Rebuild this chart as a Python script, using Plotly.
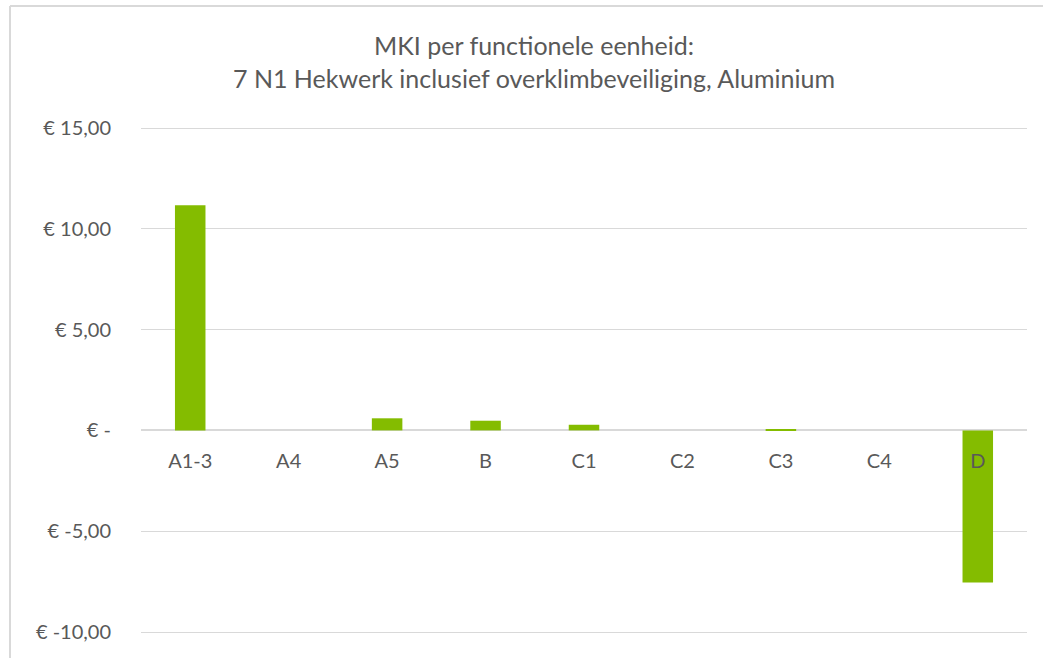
import plotly.graph_objects as go

categories = ["A1-3", "A4", "A5", "B", "C1", "C2", "C3", "C4", "D"]
values = [11.17, 0.0, 0.60, 0.48, 0.28, 0.0, 0.07, 0.0, -7.55]
tick_vals = [15, 10, 5, 0, -5, -10]
tick_text = ["€ 15,00", "€ 10,00", "€ 5,00", "€ -", "€ -5,00", "€ -10,00"]
title_lines = ["MKI per functionele eenheid:", "7 N1 Hekwerk inclusief overklimbeveiliging, Aluminium"]

W, H = 1043, 658
px_per_unit = (632 - 128) / 25
ext_px = 4
ext = ext_px / px_per_unit
y_lo, y_hi = -10 - ext, 15 + ext
ml, mr = 141, 16
mt, mb = 128 - ext_px, (658 - 632) - ext_px
pw = W - ml - mr
ph = H - mt - mb

fig = go.Figure(go.Bar(
    x=categories, y=values,
    marker=dict(color="#84BC00", line=dict(width=0)),
    width=0.31,
))

grey = "#595959"
fig.update_layout(
    width=W, height=H,
    margin=dict(l=ml, r=mr, t=mt, b=mb),
    paper_bgcolor="white", plot_bgcolor="white",
    font=dict(family="Lato, Carlito, sans-serif", color=grey),
    showlegend=False,
    title=dict(
        text="<br>".join(title_lines),
        x=534 / W, xanchor="center",
        y=1 - 55 / H, yanchor="middle",
        font=dict(size=25, color=grey, family="Lato, sans-serif"),
    ),
    yaxis=dict(
        range=[y_lo, y_hi],
        tickvals=tick_vals, ticktext=tick_text,
        showgrid=True, gridcolor="#D9D9D9", gridwidth=1,
        zeroline=True, zerolinecolor="#D9D9D9", zerolinewidth=1.5,
        ticks="outside", ticklen=25, tickcolor="rgba(0,0,0,0)",
        tickfont=dict(size=20, color=grey),
        showline=False,
    ),
    xaxis=dict(
        type="category",
        anchor="free", position=(0 - y_lo) / (y_hi - y_lo),
        showgrid=False, showline=False, zeroline=False,
        ticks="outside", ticklen=13, tickcolor="rgba(0,0,0,0)",
        tickfont=dict(size=20, color=grey),
        range=[-0.5, 8.5],
    ),
)

# chart-area border (top and left edges visible)
x_left = (10 - ml) / pw
y_top = 1 + (mt - 6) / ph
fig.add_shape(type="line", xref="paper", yref="paper",
              x0=x_left, x1=x_left, y0=y_top, y1=-mb / ph - 0.1,
              line=dict(color="#D9D9D9", width=2))
fig.add_shape(type="line", xref="paper", yref="paper",
              x0=x_left, x1=1 + mr / pw + 0.1, y0=y_top, y1=y_top,
              line=dict(color="#D9D9D9", width=2))

fig.write_html("out.html")
